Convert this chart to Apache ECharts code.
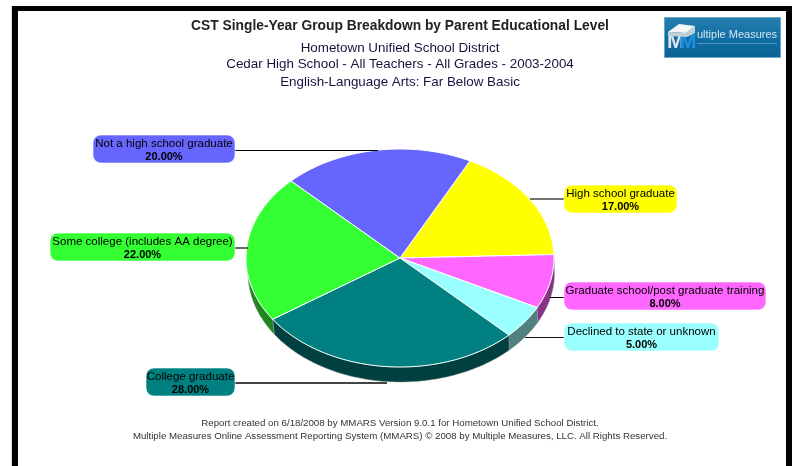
<!DOCTYPE html>
<html><head><meta charset="utf-8">
<style>html,body{margin:0;padding:0;background:#fff}#c{width:794px;height:466px}</style>
<script src="https://cdn.jsdelivr.net/npm/echarts@6/dist/echarts.min.js"></script>
</head><body><div id="c"></div>
<script>
const categories = ['High school graduate','Graduate school/post graduate training','Declined to state or unknown','College graduate','Some college (includes AA degree)','Not a high school graduate'];
const values = [17, 8, 5, 28, 22, 20];

const colors = ['#FFFF00','#FF66FF','#99FFFF','#008080','#33FF33','#6666FF'];
const wallColors = ['#808000','#863386','#508080','#004040','#1F861F','#333380'];
const startDeg = 27, cx = 400, cy = 258, rx = 154, ry = 109, depth = 15, wallInset = 2;
const FONT = '"Liberation Sans", Arial, sans-serif';
// label box [left, top, right, bottom], leader [x1, x2, y, width, colour]
const labelBoxes = [[564,185,677,213],[564,282,766,310],[564,323,719,351],[146,368,235,396],[50,233,235,261],[93,135,235,163]];
const leaders = [[530,565,199,1.6,'#444444'],[550,565,297.5,1,'#000000'],[525,565,337.5,1,'#111111'],[235,387,383,1.8,'#444444'],[235,248,248,1.6,'#444444'],[235,378,150.5,1,'#000000']];

const total = values.reduce((a,b)=>a+b,0);
function pt(deg, dy, inset){
  const t = deg*Math.PI/180, s = Math.sin(t);
  // the lower rim is pulled in on the left side only
  const r = s < 0 ? rx-(inset||0) : rx+(inset?0.5:0);
  return [cx+r*s, cy-ry*Math.cos(t)+(dy||0)];
}
function arc(a,b,dy,inset){ const p=[]; const n=Math.max(2,Math.ceil(Math.abs(b-a))); for(let i=0;i<=n;i++) p.push(pt(a+(b-a)*i/n,dy,inset)); return p; }

function renderItem(params, api){
  const i = params.dataIndex;
  let before = 0; for(let k=0;k<i;k++) before += values[k];
  const a = startDeg + before/total*360, b = a + api.value(1)/total*360;
  const kids = [];
  // visible side wall: the front half of the rim (90..270 deg)
  const wa = Math.max(a,90), wb = Math.min(b,270);
  if (wb > wa) {
    kids.push({type:'polygon', z2:1, shape:{points: arc(wa,wb,0,0).concat(arc(wb,wa,depth,wallInset))}, style:{fill:wallColors[i], stroke:'rgba(150,150,150,0.6)', lineWidth:0.8}});
  }
  kids.push({type:'polygon', z2:2, shape:{points:[[cx,cy]].concat(arc(a,b,0,0))}, style:{fill:colors[i], stroke:'#ffffff', lineWidth:1}});
  const l = leaders[i];
  kids.push({type:'line', z2:3, shape:{x1:l[0],y1:l[2],x2:l[1],y2:l[2]}, style:{stroke:l[4], lineWidth:l[3]}});
  const bx = labelBoxes[i];
  kids.push({type:'rect', z2:4, shape:{x:bx[0],y:bx[1],width:bx[2]-bx[0],height:bx[3]-bx[1],r:8}, style:{fill:colors[i], stroke:'rgba(255,255,255,0.6)', lineWidth:1}});
  const mx = (bx[0]+bx[2])/2;
  kids.push({type:'text', z2:5, style:{x:mx,y:bx[3]-19.5,text:categories[i],align:'center',verticalAlign:'middle',fill:'#000',font:'11.5px '+FONT}});
  kids.push({type:'text', z2:5, style:{x:mx,y:bx[3]-6.5,text:api.value(1).toFixed(2)+'%',align:'center',verticalAlign:'middle',fill:'#000',font:'bold 11px '+FONT}});
  return {type:'group', children:kids};
}

function t(text,top,size,weight,color){ return {text, left:400, top, textAlign:'center', padding:0, textStyle:{fontFamily:FONT,fontSize:size,fontWeight:weight,color}}; }

const chart = echarts.init(document.getElementById('c'), null, {renderer:'canvas'});
chart.setOption({
  animation:false,
  backgroundColor:'#ffffff',
  title:[
    t('CST Single-Year Group Breakdown by Parent Educational Level',19,13.8,'bold','#222222'),
    t('Hometown Unified School District',42,13.4,'normal','#1c1040'),
    t('Cedar High School - All Teachers - All Grades - 2003-2004',58,13.4,'normal','#1c1040'),
    t('English-Language Arts: Far Below Basic',76,13.4,'normal','#1c1040'),
    t('Report created on 6/18/2008 by MMARS Version 9.0.1 for Hometown Unified School District.',418,9.7,'normal','#333333'),
    t('Multiple Measures Online Assessment Reporting System (MMARS) © 2008 by Multiple Measures, LLC. All Rights Reserved.',431,9.7,'normal','#333333')
  ],
  series:[{type:'custom', coordinateSystem:'none', renderItem, silent:true,
    data: categories.map((c,i)=>[i,values[i]]) }],
  graphic:{elements:[
    {type:'rect',shape:{x:12,y:6,width:780,height:5},style:{fill:'#000'},silent:true},
    {type:'rect',shape:{x:12,y:6,width:6,height:460},style:{fill:'#000'},silent:true},
    {type:'rect',shape:{x:786,y:6,width:6,height:460},style:{fill:'#000'},silent:true},
    {type:'rect',shape:{x:11,y:6,width:1,height:460},style:{fill:'#ddd'},silent:true},
    {type:'rect',shape:{x:664.5,y:17.5,width:116,height:40},style:{fill:new echarts.graphic.LinearGradient(0,0,0,1,[{offset:0,color:'#2880b0'},{offset:.5,color:'#0f6ea3'},{offset:1,color:'#0b6296'}]),stroke:'#6fa6c4',lineWidth:1},silent:true},
    {type:'text',style:{x:667,y:32,text:'M',fill:'#dfe5ea',font:'bold 21px '+FONT},silent:true},
    {type:'text',style:{x:679,y:32,text:'M',fill:'#1f8fe0',font:'bold 21px '+FONT},silent:true},
    {type:'polygon',shape:{points:[[668,32],[679,24],[695,26],[686,33]]},style:{fill:'#f4f6f8'},silent:true},
    {type:'polygon',shape:{points:[[668,32],[686,33],[695,26],[695,33],[687,37],[668,36]]},style:{fill:'#c4ced6'},silent:true},
    {type:'text',style:{x:697,y:29,text:'ultiple Measures',fill:'#d5e6ef',font:'11px '+FONT},silent:true},
    {type:'rect',shape:{x:697,y:43,width:80,height:1},style:{fill:'#4f97bf'},silent:true}
  ]}
});
</script></body></html>
